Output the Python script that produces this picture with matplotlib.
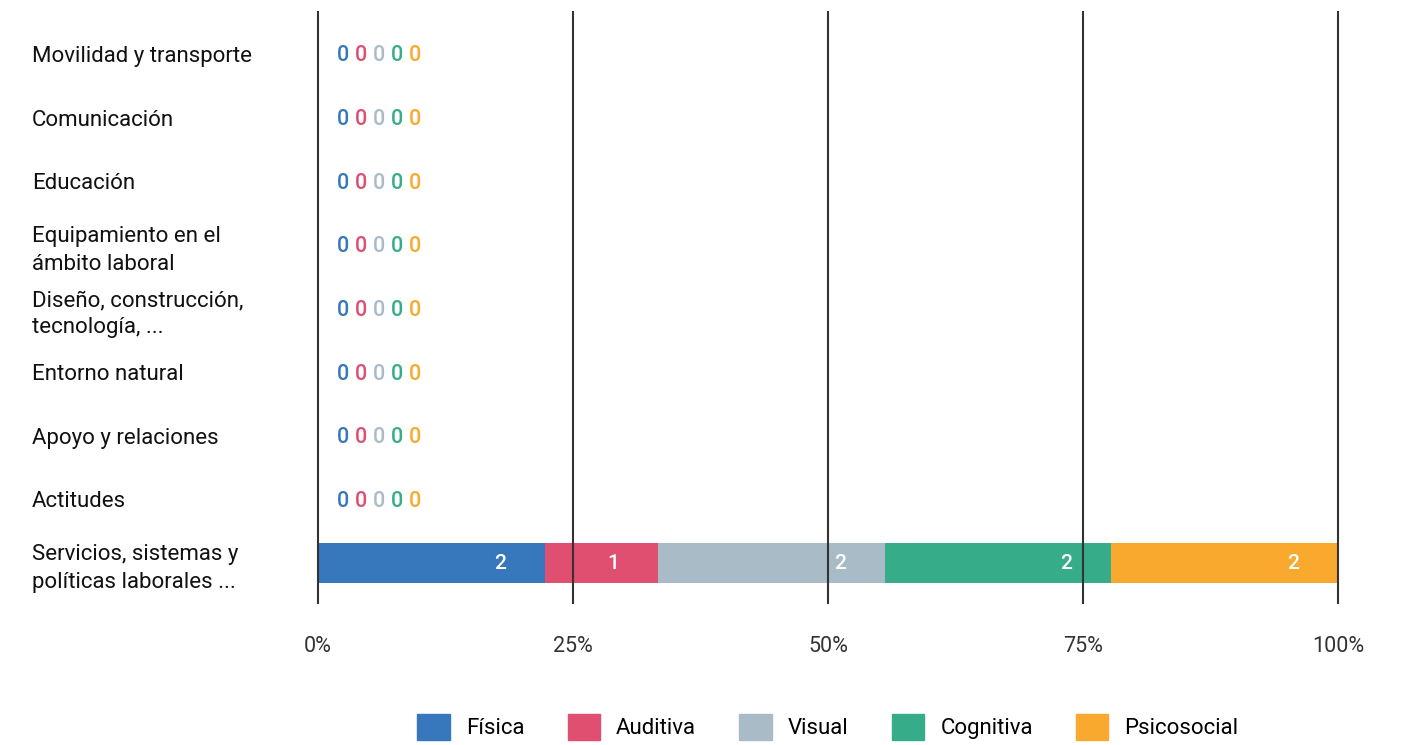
import matplotlib.pyplot as plt
import numpy as np

plt.rcParams['font.family'] = ['Roboto', 'DejaVu Sans']

# categories top to bottom
categories = ["Movilidad y transporte", "Comunicación", "Educación",
              "Equipamiento en el\námbito laboral",
              "Diseño, construcción,\ntecnología, ...",
              "Entorno natural", "Apoyo y relaciones", "Actitudes",
              "Servicios, sistemas y\npolíticas laborales ..."]
series = ["Física", "Auditiva", "Visual", "Cognitiva", "Psicosocial"]
colors = ["#3778BD", "#E04E70", "#AABBC8", "#36AD88", "#F9AA2E"]
values = {
    "Física":      [0, 0, 0, 0, 0, 0, 0, 0, 2],
    "Auditiva":    [0, 0, 0, 0, 0, 0, 0, 0, 1],
    "Visual":      [0, 0, 0, 0, 0, 0, 0, 0, 2],
    "Cognitiva":   [0, 0, 0, 0, 0, 0, 0, 0, 2],
    "Psicosocial": [0, 0, 0, 0, 0, 0, 0, 0, 2],
}
xticks = [0, 25, 50, 75, 100]
xticklabels = ["0%", "25%", "50%", "75%", "100%"]

fig = plt.figure(figsize=(14.08, 7.45), dpi=100)
ax = fig.add_axes([318 / 1408, 1 - 603 / 745, 1020 / 1408, 591 / 745])

n = len(categories)
y = np.arange(n)
totals = np.array([sum(values[s][i] for s in series) for i in range(n)], dtype=float)
left = np.zeros(n)
for s, c in zip(series, colors):
    v = np.array(values[s], dtype=float)
    pct = np.where(totals > 0, v / np.where(totals > 0, totals, 1) * 100, 0)
    ax.barh(y, pct, left=left, height=0.63, color=c, zorder=1)
    for i in range(n):
        if totals[i] > 0 and v[i] > 0:
            ax.annotate(str(int(v[i])), (left[i] + pct[i], y[i]),
                        xytext=(-45, -1), textcoords='offset pixels',
                        ha='center', va='center', color='white',
                        fontsize=15, fontweight='medium', zorder=3)
    left += pct

# zero labels for empty rows
for i in range(n):
    if totals[i] == 0:
        for k, (s, c) in enumerate(zip(series, colors)):
            ax.annotate(str(values[s][i]), (0, y[i]), xytext=(25 + 18 * k, -2),
                        textcoords='offset pixels', ha='center', va='center',
                        color=c, fontsize=15.5, fontweight='medium')

ax.set_xlim(0, 100)
ax.set_ylim(n - 1 + 0.63, -0.66)
for xv in xticks:
    ax.axvline(xv, color='#333333', lw=1.5, zorder=2, clip_on=False)

ax.set_xticks(xticks)
ax.set_xticklabels(xticklabels, fontsize=15.5, color='#333333')
ax.tick_params(axis='x', length=0, pad=24)
ax.set_yticks(y)
ax.set_yticklabels(categories, fontsize=16, color='#111111', ha='left',
                   linespacing=1.4)
ax.tick_params(axis='y', length=0, pad=206)
for sp in ax.spines.values():
    sp.set_visible(False)

handles = [plt.Rectangle((0, 0), 1, 1, color=c) for c in colors]
fig.legend(handles, series, loc='center', bbox_to_anchor=(828 / 1408, 1 - 727 / 745),
           ncol=5, frameon=False, fontsize=16, handlelength=1.45, handleheight=1.45,
           handletextpad=0.73, columnspacing=1.95)

fig.savefig("out.png", dpi=100)
